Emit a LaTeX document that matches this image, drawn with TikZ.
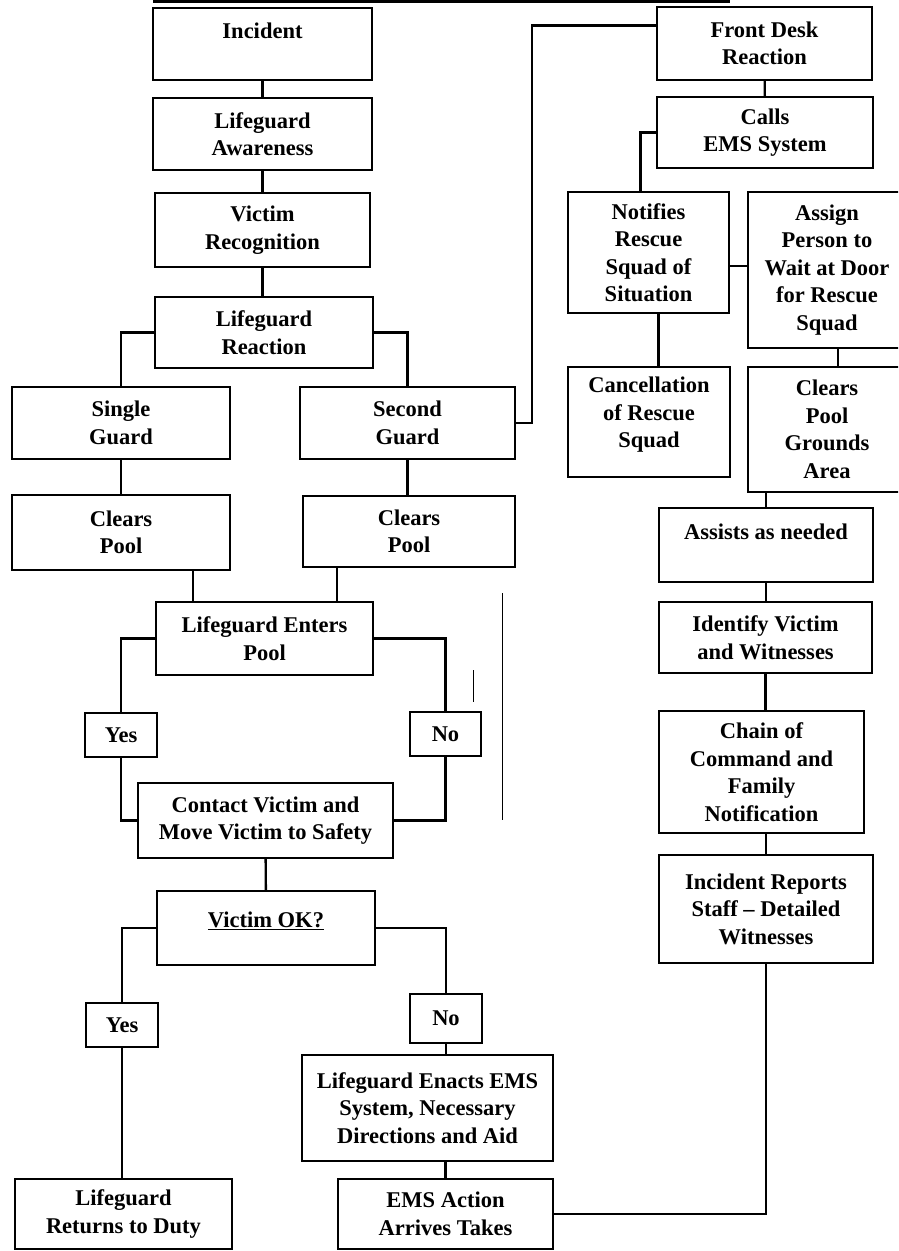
\documentclass[tikz,border=0pt]{standalone}
\usepackage{fontspec}
\setmainfont{Liberation Serif}
\usepackage{tikz}
\usetikzlibrary{calc}

\tikzset{
  blk/.style={draw, line width=2.8pt, inner sep=0pt, outer sep=0pt, align=center,
    font=\bfseries\fontsize{22.5}{27.5}\selectfont},
  lnk/.style={line width=2.4pt}
}

\begin{document}
\begin{tikzpicture}[x=1pt,y=-1pt]
\useasboundingbox (0,0) rectangle (898,1251);
\clip (0,0) rectangle (898,1251);
% rule at the top
\draw [line width=3pt] (153,1.5) -- (730,1.5);
% left column
\node [blk, minimum width=219, minimum height=72] (inc) at (262.5,44) {Incident\\\mbox{}};
\node [blk, minimum width=219, minimum height=72] (aware) at (262.5,134) {Lifeguard\\Awareness};
\node [blk, minimum width=215, minimum height=74] (recog) at (262.5,230) {Victim\\Recognition};
\node [blk, minimum width=218, minimum height=71] (react) at (264,332.5) {Lifeguard\\Reaction};
\node [blk, minimum width=218, minimum height=72] (single) at (121,423) {Single\\Guard};
\node [blk, minimum width=215, minimum height=72] (second) at (407.5,423) {Second\\Guard};
\node [blk, minimum width=218, minimum height=75] (cpl) at (121,532.5) {Clears\\Pool};
\node [blk, minimum width=212, minimum height=71] (cpr) at (409,531.5) {Clears\\Pool};
\node [blk, minimum width=217, minimum height=73] (enter) at (264.5,638.5) {Lifeguard Enters\\Pool};
\node [blk, minimum width=72, minimum height=44] (yes1) at (121,735) {Yes};
\node [blk, minimum width=71, minimum height=44] (no1) at (445.5,734) {No};
\node [blk, minimum width=255, minimum height=75] (contact) at (265.5,820.5) {Contact Victim and\\Move Victim to Safety};
\node [blk, minimum width=218, minimum height=74] (vok) at (266,928) {\underline{Victim OK?}\\[-10pt]\mbox{}};
\node [blk, minimum width=72, minimum height=44] (yes2) at (122,1025) {Yes};
\node [blk, minimum width=72, minimum height=49] (no2) at (446,1018.5) {No};
\node [blk, minimum width=251, minimum height=106] (enact) at (427.5,1108) {Lifeguard Enacts EMS\\System, Necessary\\Directions and Aid};
\node [blk, minimum width=217, minimum height=70] (ret) at (123.5,1214) {Lifeguard\\Returns to Duty};
\node [blk, minimum width=215, minimum height=70] (ems) at (445.5,1214) {EMS Action\\Arrives Takes};
% right column
\node [blk, minimum width=215, minimum height=73] (front) at (764.5,43.5) {Front Desk\\Reaction};
\node [blk, minimum width=216, minimum height=71] (calls) at (765,132.5) {Calls\\EMS System};
\node [blk, minimum width=161, minimum height=121] (notif) at (648.5,252.5) {Notifies\\Rescue\\Squad of\\Situation};
\node [blk, minimum width=158, minimum height=156] (assign) at (827,270) {Assign\\Person to\\Wait at Door\\for Rescue\\Squad};
\node [blk, minimum width=162, minimum height=110] (cancel) at (649,422) {Cancellation\\of Rescue\\Squad\\[-8pt]\mbox{}};
\node [blk, minimum width=158, minimum height=125] (grounds) at (827,429.5) {Clears\\Pool\\Grounds\\Area};
\node [blk, minimum width=214, minimum height=74] (assists) at (766,545) {Assists as needed\\\mbox{}};
\node [blk, minimum width=213, minimum height=71] (ident) at (765.5,637.5) {Identify Victim\\and Witnesses};
\node [blk, minimum width=205, minimum height=122] (chain) at (761.5,772) {Chain of\\Command and\\Family\\Notification};
\node [blk, minimum width=214, minimum height=108] (irep) at (766,909) {Incident Reports\\Staff -- Detailed\\Witnesses};
% links, left side
\draw [lnk] (inc) -- (aware);
\draw [lnk] (aware) -- (recog);
\draw [lnk] (recog.south) -- (recog.south |- react.north);
\draw [lnk] (react.west) -| (single.north);
\draw [lnk] (react.east) -| (second.north);
\draw [lnk] (single) -- (cpl);
\draw [lnk] (second.south) -- (second.south |- cpr.north);
\draw [lnk] ([xshift=37pt]enter.north west) -- ([xshift=37pt]enter.north west |- cpl.south);
\draw [lnk] ([xshift=-36pt]enter.north east) -- ([xshift=-36pt]enter.north east |- cpr.south);
\draw [lnk] (enter.west) -| (yes1.north);
\draw [lnk] (enter.east) -| (no1.north);
\draw [lnk] (yes1.south) |- (contact.west);
\draw [lnk] (no1.south) |- (contact.east);
\draw [lnk] (contact) -- (vok);
\draw [lnk] (vok.west) -| (yes2.north);
\draw [lnk] (vok.east) -| (no2.north);
\draw [lnk] (yes2.south) -- (yes2.south |- ret.north);
\draw [lnk] (no2.south) -- (no2.south |- enact.north);
\draw [lnk] (ems.north) -- (ems.north |- enact.south);
\draw [lnk] (ems.east) -| (irep.south);
% links, right side
\draw [lnk] ([yshift=18pt]front.west) -| ([xshift=17pt]second.east) -- (second.east);
\draw [lnk] (front) -- (calls);
\draw [lnk] (calls.west) -| ([xshift=-8pt]notif.north);
\draw [lnk] ([yshift=-13.5pt]notif.east) -- ([yshift=-13.5pt]notif.east -| assign.west);
\draw [lnk] ([xshift=10pt]notif.south) -- ([xshift=10pt]notif.south |- cancel.north);
\draw [lnk] ([xshift=11pt]assign.south) -- ([xshift=11pt]assign.south |- grounds.north);
\draw [lnk] (assists.north) -- (assists.north |- grounds.south);
\draw [lnk] (assists.south) -- (assists.south |- ident.north);
\draw [lnk] (ident.south) -- (ident.south |- chain.north);
\draw [lnk] (irep.north) -- (irep.north |- chain.south);
% stray marks
\draw [line width=1pt] (502,593) -- (502,820);
\draw [line width=1pt] (473,670) -- (473,702);
\end{tikzpicture}
\end{document}
